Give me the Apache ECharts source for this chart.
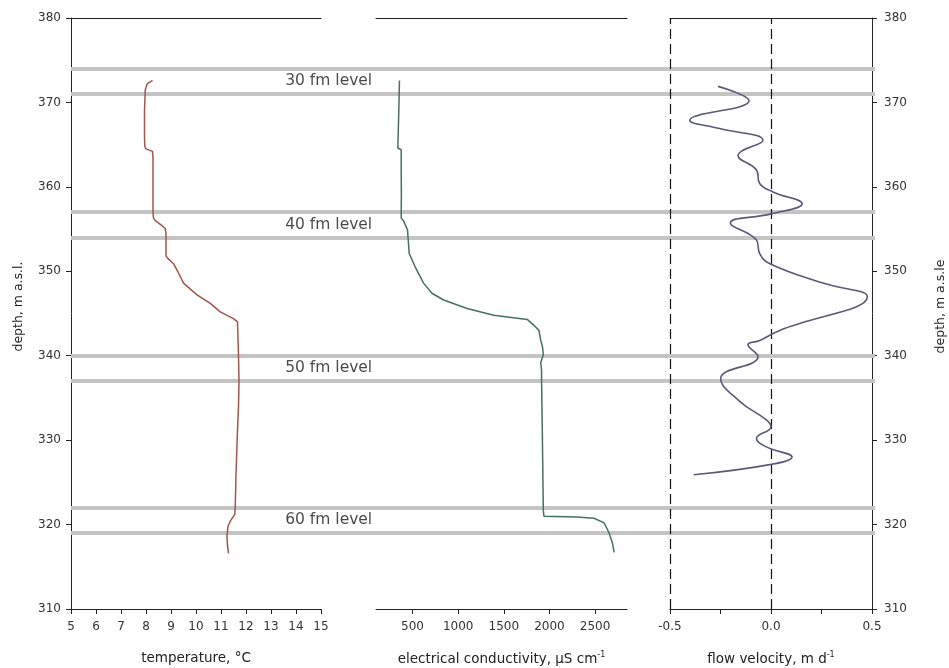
<!DOCTYPE html>
<html>
<head>
<meta charset="utf-8">
<script src="https://cdn.jsdelivr.net/npm/echarts@6/dist/echarts.min.js"></script>
<style>
html,body{margin:0;padding:0;background:#fff;}
#chart{width:949px;height:668px;}
</style>
</head>
<body>
<div id="chart"></div>
<script>
// ---- Data ----
const depthMin = 310, depthMax = 380, depthStep = 10;

const tempDepth = [372.6, 372.2, 371.5, 369, 366, 364.8, 364.5, 364.2, 363.5, 360, 357, 356.3, 356.0, 355.5, 355.1, 354.5, 353, 351.8, 351.5, 350.9, 349.8, 348.6, 347.2, 346.2, 345.2, 344.4, 344.0, 342, 340, 337, 334, 331.2, 326, 322.1, 321.2, 320.4, 319.8, 318.6, 317.5, 316.6];
const tempValue = [8.26, 8.05, 7.97, 7.94, 7.94, 7.95, 8.0, 8.26, 8.28, 8.28, 8.28, 8.3, 8.37, 8.6, 8.76, 8.8, 8.8, 8.8, 8.88, 9.1, 9.3, 9.5, 10.04, 10.57, 10.97, 11.5, 11.66, 11.68, 11.7, 11.72, 11.7, 11.66, 11.6, 11.57, 11.55, 11.37, 11.28, 11.24, 11.26, 11.3];

const ecDepth = [372.6, 370, 367, 364.6, 364.4, 362, 359, 356.3, 356.0, 354.9, 352.1, 350.5, 348.6, 347.4, 346.6, 345.6, 344.8, 344.3, 343.6, 343.0, 341.9, 341, 340.1, 339.2, 338.3, 337.1, 334, 331.2, 326, 321.7, 321.0, 320.9, 320.75, 320.2, 319.0, 317.8, 316.7];
const ecValue = [357, 352, 345, 339, 376, 376, 378, 376, 401, 445, 464, 530, 621, 713, 841, 1098, 1390, 1757, 1830, 1885, 1903, 1925, 1933, 1905, 1914, 1914, 1918, 1922, 1928, 1933, 1940, 2300, 2489, 2599, 2654, 2691, 2709];

const flowDepth = [371.9, 370.2, 367.9, 366.9, 365.5, 363.7, 362, 360.4, 359.4, 358.0, 356.8, 355.7, 353.7, 352.1, 350.9, 348.6, 347.0, 343.0, 341.8, 341.3, 339.9, 337.3, 334.6, 332.4, 331.6, 330.2, 329.2, 328.0, 327.1, 325.9];
const flowValue = [-0.262, -0.109, -0.402, -0.254, -0.04, -0.163, -0.072, -0.056, 0.01, 0.154, 0.0, -0.201, -0.072, -0.056, -0.006, 0.257, 0.477, 0.043, -0.056, -0.114, -0.064, -0.249, -0.155, -0.023, 0.0, -0.072, -0.023, 0.104, -0.006, -0.383];

const levelDepths = [374, 371, 357, 354, 340, 337, 322, 319];
const levelLabels = ['30 fm level', '40 fm level', '50 fm level', '60 fm level'];
const levelLabelDepths = [372.5, 355.5, 338.5, 320.5];

const tempTicks = [5, 6, 7, 8, 9, 10, 11, 12, 13, 14, 15];
const ecTicks = [500, 1000, 1500, 2000, 2500];
const flowTicks = [-0.5, -0.25, 0, 0.25, 0.5];
const flowLabels = [-0.5, 0, 0.5];
const flowRefLines = [-0.5, 0];

// ---- Styles ----
const FONT = 'DejaVu Sans';
const axisLineStyle = {show: true, onZero: false, lineStyle: {color: '#222', width: 1}};
const tickStyle = {show: true, inside: false, length: 5, lineStyle: {color: '#222', width: 1}};
const labelStyle = {color: '#333', fontFamily: FONT, fontSize: 12};
const nameStyle = {color: '#222', fontFamily: FONT, fontSize: 13.5,
  rich: {sup: {fontFamily: FONT, fontSize: 8, verticalAlign: 'top', padding: [0,0,8,0], color: '#222'}}};

function topLine(gridIndex, min, max) {
  return {gridIndex, type: 'value', min, max, position: 'top',
    axisLine: axisLineStyle, axisTick: {show: false}, axisLabel: {show: false}, splitLine: {show: false}};
}

const chart = echarts.init(document.getElementById('chart'), null, {renderer: 'canvas'});

const option = {
  animation: false,
  backgroundColor: '#fff',
  grid: [
    {left: 71, top: 18, width: 250, height: 591, outerBoundsMode: 'none', containLabel: false},
    {left: 376, top: 18, width: 251, height: 591, outerBoundsMode: 'none', containLabel: false},
    {left: 670, top: 18, width: 202, height: 591, outerBoundsMode: 'none', containLabel: false},
    {left: 71, top: 18, width: 804, height: 591, outerBoundsMode: 'none', containLabel: false}
  ],
  xAxis: [
    {gridIndex: 0, type: 'value', min: 5, max: 15, position: 'bottom',
      axisLine: axisLineStyle, axisTick: Object.assign({customValues: tempTicks}, tickStyle),
      axisLabel: Object.assign({customValues: tempTicks, margin: 12, formatter: v => String(v)}, labelStyle),
      splitLine: {show: false},
      name: 'temperature, °C', nameLocation: 'middle', nameGap: 42, nameTextStyle: nameStyle},
    topLine(0, 5, 15),
    {gridIndex: 1, type: 'value', min: 100, max: 2850, position: 'bottom',
      axisLine: axisLineStyle, axisTick: Object.assign({customValues: ecTicks}, tickStyle),
      axisLabel: Object.assign({customValues: ecTicks, margin: 12, formatter: v => String(v)}, labelStyle),
      splitLine: {show: false},
      name: 'electrical conductivity, µS cm{sup|-1}', nameLocation: 'middle', nameGap: 42, nameTextStyle: nameStyle},
    topLine(1, 100, 2850),
    {gridIndex: 2, type: 'value', min: -0.5, max: 0.5, position: 'bottom',
      axisLine: axisLineStyle, axisTick: Object.assign({customValues: flowTicks}, tickStyle),
      axisLabel: Object.assign({customValues: flowLabels, margin: 12, formatter: v => Number(v).toFixed(1)}, labelStyle),
      splitLine: {show: false},
      name: 'flow velocity, m d{sup|-1}', nameLocation: 'middle', nameGap: 42, nameTextStyle: nameStyle},
    topLine(2, -0.5, 0.5),
    {gridIndex: 3, type: 'value', min: 0, max: 1, show: false}
  ],
  yAxis: [
    {gridIndex: 0, type: 'value', min: depthMin, max: depthMax, interval: depthStep, position: 'left',
      axisLine: axisLineStyle, axisTick: tickStyle,
      axisLabel: Object.assign({margin: 10, formatter: v => String(v)}, labelStyle), splitLine: {show: false},
      name: 'depth, m a.s.l.', nameLocation: 'middle', nameGap: 46, nameRotate: 90,
      nameTextStyle: Object.assign({}, nameStyle, {fontSize: 12.5, padding: [0, 0, 0, 14]})},
    {gridIndex: 1, type: 'value', min: depthMin, max: depthMax, show: false},
    {gridIndex: 2, type: 'value', min: depthMin, max: depthMax, interval: depthStep, position: 'right',
      axisLine: axisLineStyle, axisTick: tickStyle,
      axisLabel: Object.assign({margin: 12, formatter: v => String(v)}, labelStyle), splitLine: {show: false},
      name: 'depth, m a.s.le', nameLocation: 'middle', nameGap: 62, nameRotate: 90,
      nameTextStyle: Object.assign({}, nameStyle, {fontSize: 12.5, padding: [0, 0, 0, 14]})},
    {gridIndex: 3, type: 'value', min: depthMin, max: depthMax, show: false}
  ],
  series: [
    {
      name: 'levels', type: 'line', xAxisIndex: 6, yAxisIndex: 3, data: [], z: 1, silent: true,
      markLine: {
        silent: true, symbol: ['none', 'none'], label: {show: false},
        lineStyle: {color: '#c4c4c4', width: 4, type: 'solid'},
        data: levelDepths.map(d => ({yAxis: d}))
      }
    },
    {
      name: 'levelLabels', type: 'scatter', xAxisIndex: 6, yAxisIndex: 3, z: 2, silent: true,
      symbolSize: 0.1, itemStyle: {color: 'rgba(0,0,0,0)'},
      label: {show: true, position: 'inside', formatter: p => p.name,
        color: '#1a1a1a', fontFamily: FONT, fontSize: 15.5},
      data: levelLabelDepths.map((d, i) => ({name: levelLabels[i], value: [0.3205, d]}))
    },
    {
      name: 'temperature', type: 'line', xAxisIndex: 0, yAxisIndex: 0, z: 5,
      showSymbol: false, symbol: 'none',
      lineStyle: {color: '#a0564c', width: 1.5},
      data: tempDepth.map((d, i) => [tempValue[i], d])
    },
    {
      name: 'conductivity', type: 'line', xAxisIndex: 2, yAxisIndex: 1, z: 5,
      showSymbol: false, symbol: 'none',
      lineStyle: {color: '#46705f', width: 1.5},
      data: ecDepth.map((d, i) => [ecValue[i], d])
    },
    {
      name: 'flow', type: 'line', xAxisIndex: 4, yAxisIndex: 2, z: 5,
      showSymbol: false, symbol: 'none', smooth: 0.45,
      lineStyle: {color: '#5a5a78', width: 1.6},
      data: flowDepth.map((d, i) => [flowValue[i], d]),
      markLine: {
        silent: true, symbol: ['none', 'none'], label: {show: false},
        lineStyle: {color: '#111', width: 1.2, type: [10, 5]},
        data: flowRefLines.map(v => ({xAxis: v}))
      }
    }
  ]
};

chart.setOption(option);
</script>
</body>
</html>
